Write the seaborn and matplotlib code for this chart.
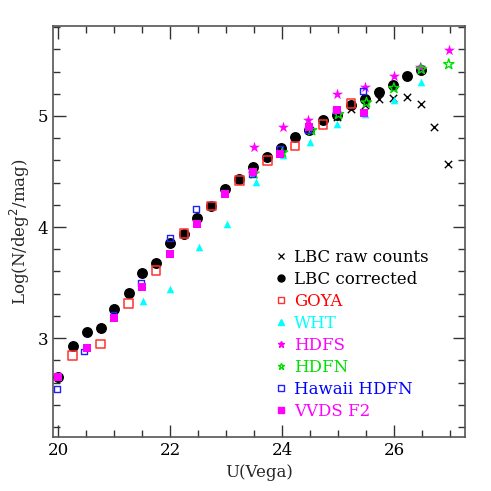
import numpy as np
import pandas as pd
import matplotlib
matplotlib.use("Agg")
import matplotlib.pyplot as plt
from matplotlib.ticker import MultipleLocator
from matplotlib.lines import Line2D
import seaborn as sns

# ---------------- data ----------------
lbc_raw_u = [24.98, 25.23, 25.48, 25.73, 25.98, 26.23, 26.48, 26.72, 26.97]
lbc_raw_n = [4.99, 5.06, 5.10, 5.15, 5.165, 5.175, 5.11, 4.90, 4.565]

lbc_cor_u = [20.0, 20.26, 20.51, 20.76, 21.0, 21.26, 21.5, 21.75, 22.0, 22.25, 22.49, 22.74,
             22.99, 23.24, 23.49, 23.74, 23.98, 24.23, 24.48, 24.73, 24.98, 25.23,
             25.48, 25.73, 25.98, 26.23, 26.48]
lbc_cor_n = [2.65, 2.925, 3.057, 3.09, 3.26, 3.41, 3.59, 3.68, 3.86, 3.94, 4.08, 4.19,
             4.34, 4.435, 4.54, 4.63, 4.71, 4.81, 4.87, 4.965, 5.01, 5.10,
             5.15, 5.22, 5.28, 5.36, 5.41]

goya_u = [20.26, 20.76, 21.26, 21.75, 22.25, 22.74, 23.24, 23.74, 24.23, 24.73, 25.23]
goya_n = [2.845, 2.946, 3.31, 3.61, 3.94, 4.19, 4.42, 4.60, 4.73, 4.925, 5.11]

wht_u = [21.51, 22.0, 22.52, 23.01, 23.53, 24.01, 24.5, 24.99, 25.48, 26.0, 26.49]
wht_n = [3.33, 3.44, 3.82, 4.03, 4.41, 4.65, 4.77, 4.93, 5.02, 5.14, 5.31]

hdfs_u = [23.5, 24.01, 24.47, 24.99, 25.48, 26.0, 26.46, 26.98]
hdfs_n = [4.72, 4.90, 4.96, 5.20, 5.26, 5.36, 5.445, 5.59]

hdfn_u = [23.5, 24.01, 24.53, 25.01, 25.51, 26.0, 26.49, 26.98]
hdfn_n = [4.48, 4.67, 4.87, 5.015, 5.12, 5.25, 5.42, 5.465]

hawaii_u = [19.98, 20.46, 20.99, 21.48, 22.0, 22.46, 23.46, 23.97, 24.47, 24.96, 25.45]
hawaii_n = [2.54, 2.88, 3.21, 3.50, 3.90, 4.16, 4.48, 4.70, 4.87, 5.05, 5.225]

vvds_u = [20.0, 20.51, 21.0, 21.5, 22.0, 22.49, 22.99, 23.49, 23.96, 24.48, 24.98, 25.47]
vvds_n = [2.65, 2.915, 3.18, 3.46, 3.76, 4.03, 4.30, 4.50, 4.66, 4.90, 5.05, 5.03]

labels = ["LBC raw counts", "LBC corrected", "GOYA", "WHT", "HDFS", "HDFN",
          "Hawaii HDFN", "VVDS F2"]
x_ticks = [20, 22, 24, 26]
y_ticks = [3, 4, 5]

# ---------------- style ----------------
sns.set_style("ticks")
plt.rcParams['font.family'] = ['DejaVu Serif']

fig = plt.figure(figsize=(4.91, 4.91), dpi=100)
ax = fig.add_axes([53/491, 54/491, 412/491, 411/491])

series = [
    (labels[0], lbc_raw_u, lbc_raw_n, dict(marker='x', color='black', s=28, linewidth=1.0), 'black'),
    (labels[1], lbc_cor_u, lbc_cor_n, dict(marker='o', color='black', s=62, edgecolor='black', linewidth=0), 'black'),
    (labels[2], goya_u, goya_n, dict(marker='s', facecolor='none', edgecolor='#ff3030', s=38, linewidth=1.1), '#ff0000'),
    (labels[3], wht_u, wht_n, dict(marker='^', color='#00ffff', s=30, linewidth=0), '#00ffff'),
    (labels[4], hdfs_u, hdfs_n, dict(marker='*', color='#ff00ff', s=70, linewidth=0), '#ff00ff'),
    (labels[5], hdfn_u, hdfn_n, dict(marker='*', facecolor='none', edgecolor='#00e000', s=60, linewidth=1.0), '#00e000'),
    (labels[6], hawaii_u, hawaii_n, dict(marker='s', facecolor='none', edgecolor='#2020ff', s=18, linewidth=1.0), '#0000ff'),
    (labels[7], vvds_u, vvds_n, dict(marker='s', color='#ff00ff', s=30, linewidth=0), '#ff00ff'),
]

order_z = [3, 2, 4, 5, 6, 7, 8, 9]
for (lab, u, n, kw, tc), z in zip(series, order_z):
    df = pd.DataFrame({"U": u, "logN": n})
    sns.scatterplot(data=df, x="U", y="logN", ax=ax, zorder=z, legend=False, **kw)

ax.set_xlim(19.91, 27.27)
ax.set_ylim(2.11, 5.81)
ax.set_xticks(x_ticks)
ax.set_yticks(y_ticks)
ax.xaxis.set_minor_locator(MultipleLocator(0.5))
ax.yaxis.set_minor_locator(MultipleLocator(0.2))
ax.tick_params(which='both', direction='in', top=True, right=True, colors='#333333',
               labelcolor='black', labelsize=12)
ax.tick_params(which='major', length=9, width=1.0)
ax.tick_params(which='minor', length=5, width=1.0)
for sp in ax.spines.values():
    sp.set_color('#555555')
    sp.set_linewidth(1.2)

ax.set_xlabel("U(Vega)", fontsize=12)
ax.set_ylabel("Log(N/deg$^2$/mag)", fontsize=12)

# legend
handles = [
    Line2D([], [], marker='x', color='black', linestyle='none', markersize=4, markeredgewidth=0.9),
    Line2D([], [], marker='o', color='black', linestyle='none', markersize=5),
    Line2D([], [], marker='s', markerfacecolor='none', markeredgecolor='#ff3030', linestyle='none', markersize=4),
    Line2D([], [], marker='^', color='#00ffff', linestyle='none', markersize=4),
    Line2D([], [], marker='*', color='#ff00ff', linestyle='none', markersize=5),
    Line2D([], [], marker='*', markerfacecolor='none', markeredgecolor='#00e000', linestyle='none', markersize=5),
    Line2D([], [], marker='s', markerfacecolor='none', markeredgecolor='#2020ff', linestyle='none', markersize=4),
    Line2D([], [], marker='s', color='#ff00ff', linestyle='none', markersize=4),
]
leg = ax.legend(handles, labels, loc='lower left', bbox_to_anchor=(0.525, 0.025),
                frameon=False, fontsize=12, handlelength=0.6, handletextpad=0.5,
                labelspacing=0.3, borderaxespad=0,
                labelcolor=[s[4] for s in series])

fig.savefig("out.png", dpi=100)
